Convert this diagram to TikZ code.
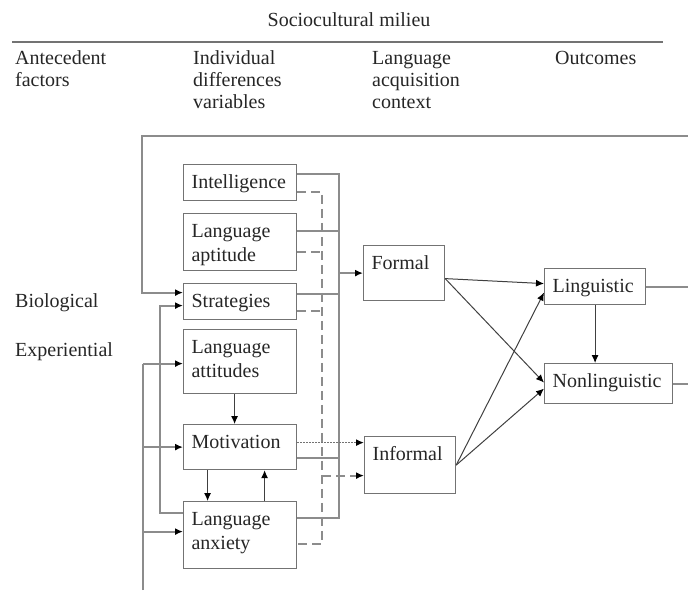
\documentclass[tikz,border=0pt]{standalone}
\usepackage{fontspec}
\setmainfont{Liberation Serif}
\usetikzlibrary{arrows.meta,calc}
\newcommand{\bxt}[3]{\parbox[c][#2][t]{#1}{\vspace*{6.7pt}\hspace*{8pt}\begin{tabular}[t]{@{}l@{}}#3\end{tabular}}}
\newcommand{\hdr}[1]{\begin{tabular}[t]{@{}l@{}}#1\end{tabular}}
\begin{document}
\begin{tikzpicture}[x=1pt,y=-1pt,
  txt/.style={font=\fontsize{20}{22}\selectfont, text=black!85, inner sep=0pt},
  bx/.style={draw=black!55, line width=1.2pt, anchor=north west, inner sep=0pt, font=\fontsize{20}{24}\selectfont, text=black!85},
  bus/.style={draw=black!45, line width=1.9pt},
  dsh/.style={bus, dash pattern=on 9pt off 5pt},
  dotl/.style={draw=black!55, line width=1.5pt, dash pattern=on 1.5pt off 1.5pt},
  arr/.style={draw=black!75, line width=1pt},
  tip/.style={-{Latex[length=8pt,width=7pt,color=black]}},
]
\useasboundingbox (0,0) rectangle (688,590);

% headers
\node[txt, anchor=base] (socio) at (349,26) {Sociocultural milieu};
\coordinate (ruleL) at (12,42);
\coordinate (ruleR) at (663,42);
\draw[draw=black!55, line width=1.4pt] (ruleL) -- (ruleR);
\node[txt, anchor=north west] (ante) at (15,48.6) {\hdr{Antecedent\\factors}};
\node[txt, anchor=north west] (indiv) at (193,48.6) {\hdr{Individual\\differences\\variables}};
\node[txt, anchor=north west] (lac) at (372,48.6) {\hdr{Language\\acquisition\\context}};
\node[txt, anchor=north west] (outc) at (555,48.6) {\hdr{Outcomes}};
\node[txt, anchor=base west] (bio) at (15,307) {Biological};
\node[txt, anchor=base west] (exp) at (15,356) {Experiential};

% boxes
\node[bx] (intel) at (183,164) {\bxt{113pt}{36pt}{Intelligence}};
\node[bx] (apt) at (183,213) {\bxt{113pt}{57pt}{Language\\aptitude}};
\node[bx] (strat) at (183,283) {\bxt{113pt}{36pt}{Strategies}};
\node[bx] (att) at (183,329) {\bxt{113pt}{64pt}{Language\\attitudes}};
\node[bx] (mot) at (183,424) {\bxt{113pt}{45pt}{Motivation}};
\node[bx] (anx) at (183,501) {\bxt{113pt}{67pt}{Language\\anxiety}};
\node[bx] (formal) at (363,245) {\bxt{81pt}{55pt}{Formal}};
\node[bx] (informal) at (364,436) {\bxt{91pt}{57pt}{Informal}};
\node[bx] (ling) at (544,268) {\bxt{101pt}{36pt}{Linguistic}};
\node[bx] (nonling) at (544,363) {\bxt{128pt}{40pt}{Nonlinguistic}};

% helper coordinates
\coordinate (bus) at (339,0);
\coordinate (dbus) at (322,0);
\coordinate (topR) at (688,136);
\coordinate (topL) at (142,136);
\coordinate (fbx) at (160,0);
\coordinate (botL) at (143,590);
\coordinate (edgeR) at (688,0);

% solid bus
\draw[bus] ([yshift=9pt]intel.east) -| ([yshift=17.5pt]anx.east -| bus) -- ([yshift=17.5pt]anx.east);
\draw[bus] ([yshift=11.5pt]apt.east) -- ([yshift=11.5pt]apt.east -| bus);
\draw[bus] ([yshift=8pt]strat.east) -- ([yshift=8pt]strat.east -| bus);
\draw[bus] ([yshift=-10.5pt]mot.east) -- ([yshift=-10.5pt]mot.east -| bus);
\draw[bus,tip] (bus |- formal.west) -- (formal.west);

% dashed bus
\draw[dsh] ([yshift=-9pt]intel.east) -| ([yshift=-8.5pt]anx.east -| dbus) -- ([yshift=-8.5pt]anx.east);
\draw[dsh] ([yshift=-9.5pt]apt.east) -- ([yshift=-9.5pt]apt.east -| dbus);
\draw[dsh] ([yshift=-9pt]strat.east) -- ([yshift=-9pt]strat.east -| dbus);
\draw[dsh,tip] ([yshift=-10.5pt]informal.west -| dbus) -- ([yshift=-10.5pt]informal.west);

% dotted
\draw[dotl,tip] ([yshift=4.5pt]mot.east) -- ([yshift=4.5pt]mot.east -| informal.west);

% feedback loops
\draw[bus,tip] (topR) -- (topL) |- ([yshift=9pt]strat.west);
\draw[bus,tip] ([yshift=22.5pt]anx.west) -| ([yshift=-4pt]strat.west -| fbx) -- ([yshift=-4pt]strat.west);
\draw[bus] (botL) -- ([yshift=-2pt]att.west -| botL);
\draw[bus,tip] ([yshift=-2pt]att.west -| botL) -- ([yshift=-2pt]att.west);
\draw[bus,tip] (mot.west -| botL) -- (mot.west);
\draw[bus,tip] ([yshift=3.5pt]anx.west -| botL) -- ([yshift=3.5pt]anx.west);

% inner arrows
\draw[arr,tip] ([xshift=-5.5pt]att.south) -- ([xshift=-5.5pt]att.south |- mot.north);
\draw[arr,tip] ([xshift=-32.5pt]mot.south) -- ([xshift=-32.5pt]mot.south |- anx.north);
\draw[arr,tip] ([xshift=24.5pt]anx.north) -- ([xshift=24.5pt]anx.north |- mot.south);

% outcome arrows
\draw[arr,tip] ([yshift=-5.5pt]formal.east) -- ([yshift=3pt]ling.west);
\draw[arr,tip] ([yshift=-5.5pt]formal.east) -- ([yshift=1pt]nonling.west);
\draw[arr,tip] (informal.east) -- ([yshift=-6pt]ling.west);
\draw[arr,tip] (informal.east) -- ([yshift=-5pt]nonling.west);
\draw[arr,tip] (ling.south) -- (ling.south |- nonling.north);
\draw[bus] (ling.east) -- (ling.east -| edgeR);
\draw[bus] (nonling.east) -- (nonling.east -| edgeR);
\end{tikzpicture}
\end{document}
